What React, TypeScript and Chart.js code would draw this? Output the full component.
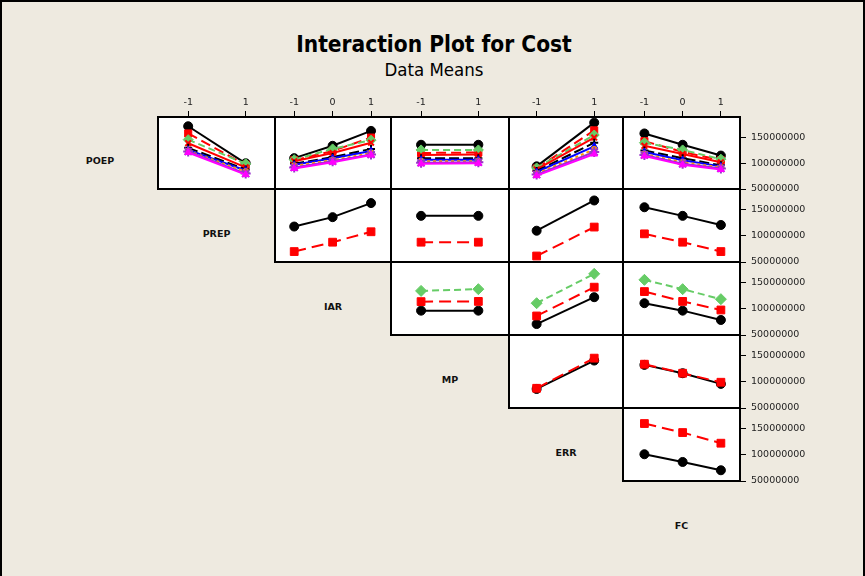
import React, { useEffect, useRef } from "react";
import { Chart, registerables } from "chart.js";

Chart.register(...registerables);

// ---------- text ----------
const chartTitle = "Interaction Plot for Cost";
const chartSubtitle = "Data Means";
const rowFactors = ["POEP", "PREP", "IAR", "MP", "ERR"];
const colFactors = ["PREP", "IAR", "MP", "ERR", "FC"];
const diagonalLabels = ["POEP", "PREP", "IAR", "MP", "ERR", "FC"];

// ---------- factor levels (x values) ----------
const prepLevels = [-1, 1];
const iarLevels = [-1, 0, 1];
const mpLevels = [-1, 1];
const errLevels = [-1, 1];
const fcLevels = [-1, 0, 1];

// ---------- y axis ticks ----------
const yTickValues = [50000000, 100000000, 150000000];
const yMin = 50000000;
const yMax = 190000000;

// ---------- data means: POEP (9 levels) ----------
const poepByPrep = [
  [172e6, 100e6],
  [158e6, 97e6],
  [146e6, 99e6],
  [139e6, 92e6],
  [130e6, 88e6],
  [126e6, 86e6],
  [124e6, 84e6],
  [123e6, 80e6],
  [121e6, 78e6],
];
const poepByIar = [
  [110e6, 134e6, 163e6],
  [106e6, 124e6, 150e6],
  [107e6, 128e6, 145e6],
  [104e6, 120e6, 140e6],
  [99e6, 112e6, 128e6],
  [97e6, 110e6, 124e6],
  [95e6, 106e6, 120e6],
  [92e6, 104e6, 117e6],
  [90e6, 102e6, 116e6],
];
const poepByMp = [
  [136e6, 136e6],
  [120e6, 121e6],
  [126e6, 126e6],
  [116e6, 117e6],
  [110e6, 110e6],
  [107e6, 107e6],
  [104e6, 104e6],
  [101e6, 102e6],
  [99e6, 100e6],
];
const poepByErr = [
  [94e6, 179e6],
  [90e6, 164e6],
  [91e6, 155e6],
  [88e6, 150e6],
  [85e6, 140e6],
  [83e6, 133e6],
  [80e6, 127e6],
  [78e6, 122e6],
  [76e6, 118e6],
];
const poepByFc = [
  [158e6, 136e6, 115e6],
  [143e6, 122e6, 106e6],
  [140e6, 126e6, 108e6],
  [134e6, 118e6, 102e6],
  [125e6, 110e6, 96e6],
  [122e6, 106e6, 94e6],
  [118e6, 102e6, 92e6],
  [116e6, 99e6, 90e6],
  [114e6, 97e6, 88e6],
];

// ---------- PREP (2 levels) ----------
const prepByIar = [
  [118e6, 136e6, 163e6],
  [70e6, 88e6, 108e6],
];
const prepByMp = [
  [138.5e6, 138.5e6],
  [88e6, 88e6],
];
const prepByErr = [
  [110e6, 168e6],
  [61.5e6, 117e6],
];
const prepByFc = [
  [155e6, 138.5e6, 121e6],
  [104e6, 88e6, 70e6],
];

// ---------- IAR (3 levels) ----------
const iarByMp = [
  [96.7e6, 96.7e6],
  [114e6, 114.4e6],
  [134.6e6, 137.9e6],
];
const iarByErr = [
  [71e6, 122.5e6],
  [86.5e6, 141.7e6],
  [111e6, 167.3e6],
];
const iarByFc = [
  [111e6, 96.7e6, 78.8e6],
  [133.3e6, 114.4e6, 98e6],
  [155.8e6, 137.9e6, 118.7e6],
];

// ---------- MP (2 levels) ----------
const mpByErr = [
  [86.5e6, 141e6],
  [87.8e6, 145.6e6],
];
const mpByFc = [
  [132.7e6, 116.7e6, 96.2e6],
  [134e6, 116.7e6, 99.4e6],
];

// ---------- ERR (2 levels) ----------
const errByFc = [
  [101.3e6, 86.5e6, 70.6e6],
  [160.2e6, 142.9e6, 122.5e6],
];

// ---------- series styles (by level index of the trace factor) ----------
type SeriesStyle = { color: string; point: any; radius: number; dash: number[]; pbw: number };
const twoLevelStyles: SeriesStyle[] = [
  { color: "#000000", point: "circle", radius: 4.5, dash: [], pbw: 1 },
  { color: "#FF0000", point: "rect", radius: 5.5, dash: [12, 6], pbw: 1 },
  { color: "#66CC66", point: "rectRot", radius: 5.5, dash: [7, 4], pbw: 1 },
];
const poepStyles: SeriesStyle[] = [
  { color: "#000000", point: "circle", radius: 4.5, dash: [], pbw: 1 },
  { color: "#FF0000", point: "rect", radius: 5, dash: [10, 5], pbw: 1 },
  { color: "#66CC66", point: "rectRot", radius: 5, dash: [7, 4], pbw: 1 },
  { color: "#FF0000", point: "crossRot", radius: 4, dash: [], pbw: 2 },
  { color: "#000000", point: "cross", radius: 4, dash: [10, 4], pbw: 2 },
  { color: "#0000FF", point: "triangle", radius: 4, dash: [], pbw: 1 },
  { color: "#FF9900", point: "circle", radius: 3, dash: [3, 3], pbw: 1 },
  { color: "#9933CC", point: "star", radius: 5, dash: [], pbw: 2 },
  { color: "#FF00FF", point: "triangle", radius: 4, dash: [], pbw: 1 },
];

// ---------- layout (pixels) ----------
const COL_EDGES = [158, 275, 391, 509, 623, 740];
const ROW_EDGES = [117, 189, 262, 335, 408, 481];
const COL_RANGES = [
  [-2.05, 2.02],
  [-1.5, 1.52],
  [-2.05, 2.07],
  [-1.96, 2.0],
  [-1.56, 1.5],
];
const TOP_AXIS = 30;
const RIGHT_AXIS = 110;
const TICK_FONT = { family: "'DejaVu Sans', sans-serif", size: 9.5 };
const BG = "#EEEAE0";

type PanelSpec = { row: number; col: number; levels: number[]; values: number[][]; styles: SeriesStyle[] };

const colLevels = [prepLevels, iarLevels, mpLevels, errLevels, fcLevels];
const panelValues: (number[][] | null)[][] = [
  [poepByPrep, poepByIar, poepByMp, poepByErr, poepByFc],
  [null, prepByIar, prepByMp, prepByErr, prepByFc],
  [null, null, iarByMp, iarByErr, iarByFc],
  [null, null, null, mpByErr, mpByFc],
  [null, null, null, null, errByFc],
];

const panels: PanelSpec[] = [];
panelValues.forEach((rowVals, r) =>
  rowVals.forEach((vals, c) => {
    if (vals) panels.push({ row: r, col: c, levels: colLevels[c], values: vals, styles: r === 0 ? poepStyles : twoLevelStyles });
  })
);

const framePlugin = {
  id: "panelFrame",
  beforeDraw(chart: any) {
    const { ctx, chartArea: a } = chart;
    ctx.save();
    ctx.fillStyle = "#FFFFFF";
    ctx.fillRect(a.left, a.top, a.right - a.left, a.bottom - a.top);
    ctx.restore();
  },
  afterDraw(chart: any) {
    const { ctx, chartArea: a } = chart;
    ctx.save();
    ctx.strokeStyle = "#000000";
    ctx.lineWidth = 2;
    ctx.strokeRect(a.left, a.top, a.right - a.left, a.bottom - a.top);
    ctx.restore();
  },
};

function Panel({ spec }: { spec: PanelSpec }) {
  const ref = useRef<HTMLCanvasElement>(null);
  const { row, col } = spec;
  const hasTop = row === 0;
  const hasRight = col === 4;
  const pad = {
    left: 2,
    right: hasRight ? 0 : 2,
    top: hasTop ? 0 : hasRight ? 9 : 2,
    bottom: hasRight ? 9 : 2,
  };
  const areaW = COL_EDGES[col + 1] - COL_EDGES[col];
  const areaH = ROW_EDGES[row + 1] - ROW_EDGES[row];
  const left = COL_EDGES[col] - pad.left;
  const top = ROW_EDGES[row] - pad.top - (hasTop ? TOP_AXIS : 0);
  const width = pad.left + areaW + (hasRight ? RIGHT_AXIS : pad.right);
  const height = pad.top + (hasTop ? TOP_AXIS : 0) + areaH + pad.bottom;

  useEffect(() => {
    if (!ref.current) return;
    const n = spec.values.length;
    const datasets = spec.values.map((vals, i) => {
      const st = spec.styles[i];
      return {
        label: String(i),
        data: spec.levels.map((x, j) => ({ x, y: vals[j] })),
        borderColor: st.color,
        backgroundColor: st.color,
        borderWidth: 2,
        borderDash: st.dash,
        pointStyle: st.point,
        pointRadius: st.radius,
        pointBackgroundColor: st.color,
        pointBorderColor: st.color,
        pointBorderWidth: st.pbw,
        tension: 0,
        order: n - i,
      };
    });
    const xScale: any = {
      type: "linear",
      position: "top",
      display: hasTop,
      min: COL_RANGES[col][0],
      max: COL_RANGES[col][1],
      afterBuildTicks: (s: any) => {
        s.ticks = spec.levels.map((v) => ({ value: v }));
      },
      grid: { display: true, drawOnChartArea: false, drawTicks: true, tickLength: 6, color: "#000", lineWidth: 1 },
      border: { display: false },
      ticks: { font: TICK_FONT, color: "#222", padding: 3, maxRotation: 0, autoSkip: false, callback: (v: any) => String(v) },
    };
    if (hasTop)
      xScale.afterFit = (s: any) => {
        s.height = TOP_AXIS;
        s.paddingLeft = 0;
        s.paddingRight = 0;
      };
    const yScale: any = {
      type: "linear",
      position: "right",
      display: hasRight,
      min: yMin,
      max: yMax,
      afterBuildTicks: (s: any) => {
        s.ticks = yTickValues.map((v) => ({ value: v }));
      },
      grid: { display: true, drawOnChartArea: false, drawTicks: true, tickLength: 6, color: "#000", lineWidth: 1 },
      border: { display: false },
      ticks: { font: TICK_FONT, color: "#222", padding: 5, autoSkip: false, callback: (v: any) => String(v) },
    };
    if (hasRight)
      yScale.afterFit = (s: any) => {
        s.width = RIGHT_AXIS;
        s.paddingTop = 0;
        s.paddingBottom = 0;
      };
    const chart = new Chart(ref.current, {
      type: "line",
      data: { datasets },
      options: {
        animation: false,
        responsive: false,
        maintainAspectRatio: false,
        devicePixelRatio: 1,
        layout: { padding: pad, autoPadding: false },
        plugins: { legend: { display: false }, tooltip: { enabled: false }, title: { display: false } },
        scales: { x: xScale, y: yScale },
      },
      plugins: [framePlugin],
    } as any);
    return () => chart.destroy();
  }, []);

  return (
    <canvas
      ref={ref}
      width={width}
      height={height}
      style={{ position: "absolute", left, top, width, height }}
    />
  );
}

export default function App() {
  const labelStyle = (x: number, y: number): React.CSSProperties => ({
    position: "absolute",
    left: x,
    top: y,
    transform: "translate(-50%, -50%)",
    fontFamily: "'DejaVu Sans', sans-serif",
    fontWeight: "bold",
    fontSize: 9.5,
    color: "#111",
    whiteSpace: "nowrap",
  });
  const labelCenters = diagonalLabels.map((name, i) => {
    const x = i === 0 ? 100 : (COL_EDGES[i - 1] + COL_EDGES[i]) / 2;
    const y = (ROW_EDGES[i] + (ROW_EDGES[i + 1] ?? ROW_EDGES[i] + 73)) / 2 + 7;
    return { name, x, y };
  });
  return (
    <div
      style={{
        position: "fixed",
        left: 0,
        top: 0,
        width: 865,
        height: 576,
        background: BG,
        boxSizing: "border-box",
        borderTop: "2px solid #000",
        borderLeft: "2px solid #000",
        borderRight: "2px solid #000",
        overflow: "hidden",
      }}
    >
      <div style={{ position: "absolute", left: -2, top: -2, width: 865, height: 576 }}>
        <div
          style={{
            position: "absolute",
            left: 434,
            top: 44,
            transform: "translate(-50%, -50%)",
            fontFamily: "'DejaVu Sans Condensed', 'DejaVu Sans', sans-serif",
            fontWeight: "bold",
            fontSize: 22.5,
            color: "#000",
            whiteSpace: "nowrap",
          }}
        >
          {chartTitle}
        </div>
        <div
          style={{
            position: "absolute",
            left: 434,
            top: 69,
            transform: "translate(-50%, -50%)",
            fontFamily: "'DejaVu Sans Condensed', 'DejaVu Sans', sans-serif",
            fontSize: 18.5,
            color: "#000",
            whiteSpace: "nowrap",
          }}
        >
          {chartSubtitle}
        </div>
        {labelCenters.map((l) => (
          <div key={l.name} style={labelStyle(l.x, l.y)}>
            {l.name}
          </div>
        ))}
        {panels.map((p) => (
          <Panel key={rowFactors[p.row] + colFactors[p.col]} spec={p} />
        ))}
      </div>
    </div>
  );
}
